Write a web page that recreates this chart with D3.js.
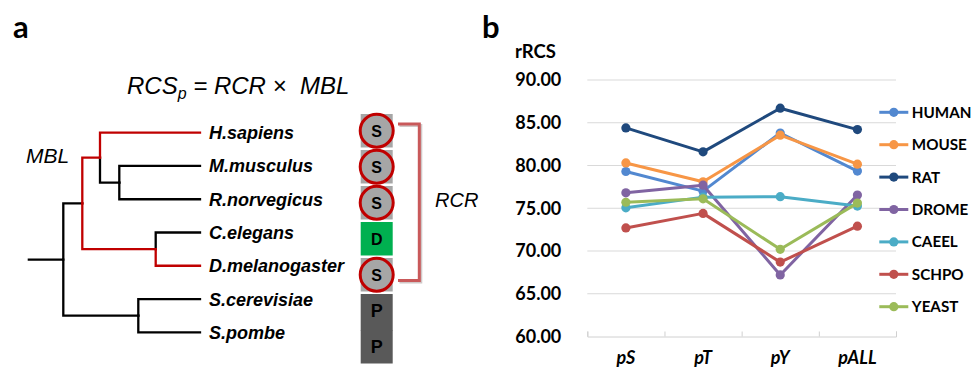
<!DOCTYPE html>
<html>
<head>
<meta charset="utf-8">
<script src="https://cdn.jsdelivr.net/npm/d3@7"></script>
<style>
    body { margin: 0; background: #fff; }
    svg { display: block; }
</style>
</head>
<body>
<div id="chart"></div>
<script>
// ---- panel a: tree (branch lengths, arbitrary units)
var treeNodes = [
    { id: "root", parent: "", len: 35.6 },
    { id: "A", parent: "root", len: 19 },
    { id: "V", parent: "A", len: 17.7 },
    { id: "H.sapiens", parent: "V", len: 100 },
    { id: "R", parent: "V", len: 19.3 },
    { id: "M.musculus", parent: "R", len: 80.7 },
    { id: "R.norvegicus", parent: "R", len: 80.7 },
    { id: "CD", parent: "A", len: 73.4 },
    { id: "C.elegans", parent: "CD", len: 44.3 },
    { id: "D.melanogaster", parent: "CD", len: 44.3 },
    { id: "Y", parent: "root", len: 75 },
    { id: "S.cerevisiae", parent: "Y", len: 61.7 },
    { id: "S.pombe", parent: "Y", len: 61.7 }
];
var redBranches = ["V", "H.sapiens", "CD", "D.melanogaster"];
var leafOrder = ["H.sapiens", "M.musculus", "R.norvegicus", "C.elegans", "D.melanogaster", "S.cerevisiae", "S.pombe"];
var residueTypes = ["S", "S", "S", "D", "S", "P", "P"];

// ---- panel b: line chart
var categories = ["pS", "pT", "pY", "pALL"];
var species = ["HUMAN", "MOUSE", "RAT", "DROME", "CAEEL", "SCHPO", "YEAST"];
var human = [79.3, 77.0, 83.8, 79.35];
var mouse = [80.3, 78.1, 83.55, 80.15];
var rat   = [84.4, 81.6, 86.7, 84.2];
var drome = [76.8, 77.7, 67.2, 76.55];
var caeel = [75.05, 76.3, 76.35, 75.25];
var schpo = [72.7, 74.4, 68.7, 72.9];
var yeast = [75.7, 76.1, 70.2, 75.6];
var yTicks = [60, 65, 70, 75, 80, 85, 90];

function init() {
    var w = 971, h = 371;
    var svg = d3.select("#chart").append("svg")
        .attr("width", w)
        .attr("height", h);

    drawTree(svg);
    drawLines(svg);
}

function drawTree(svg) {
    var red = "#c00000";
    var root = d3.stratify()
        .id(function(d) { return d.id; })
        .parentId(function(d) { return d.parent || null; })(treeNodes);

    // cumulative depth
    root.each(function(n) {
        n.depthLen = n.data.len + (n.parent ? n.parent.depthLen : 0);
    });
    var maxDepth = d3.max(root.leaves(), function(n) { return n.depthLen; });

    var xScale = d3.scaleLinear().domain([0, maxDepth]).range([27.7, 200]);
    var yLeaf = d3.scalePoint().domain(leafOrder).range([132.7, 332.3]);

    root.eachAfter(function(n) {
        if (!n.children) n.yPos = yLeaf(n.id);
        else n.yPos = (n.children[0].yPos + n.children[n.children.length - 1].yPos) / 2;
        n.xPos = xScale(n.depthLen);
    });

    var g = svg.append("g");

    // stub into the root
    g.append("line")
        .attr("x1", xScale(0)).attr("x2", root.xPos)
        .attr("y1", root.yPos).attr("y2", root.yPos)
        .attr("stroke", "#000").attr("stroke-width", 2.3);

    // elbow for each branch, black ones first so red sits on top
    var branches = root.descendants().slice(1).sort(function(a, b) {
        return (redBranches.indexOf(a.id) >= 0) - (redBranches.indexOf(b.id) >= 0);
    });
    g.selectAll(".branch")
        .data(branches)
        .enter()
        .append("path")
        .attr("class", "branch")
        .attr("fill", "none")
        .attr("stroke-width", 2.3)
        .attr("stroke-linecap", "square")
        .attr("stroke", function(d) { return redBranches.indexOf(d.id) >= 0 ? red : "#000"; })
        .attr("d", function(d) {
            return "M" + d.parent.xPos + "," + d.parent.yPos +
                   "V" + d.yPos + "H" + d.xPos;
        });

    // leaf labels
    g.selectAll(".leaf")
        .data(root.leaves())
        .enter()
        .append("text")
        .attr("x", function(d) { return d.xPos + 9; })
        .attr("y", function(d) { return d.yPos; })
        .attr("dy", "0.36em")
        .style("font-family", "'Liberation Sans', Arial, sans-serif")
        .style("font-weight", "bold")
        .style("font-style", "italic")
        .style("font-size", "18px")
        .text(function(d) { return d.id; });

    // formula
    var f = svg.append("text")
        .attr("x", 127).attr("y", 94)
        .attr("xml:space", "preserve")
        .style("font-family", "'Liberation Sans', Arial, sans-serif")
        .style("font-style", "italic")
        .style("font-size", "24px")
        .style("white-space", "pre");
    f.append("tspan").text("RCS");
    f.append("tspan").attr("dy", 5).style("font-size", "16px").text("p");
    f.append("tspan").attr("dy", -5).text(" = RCR \u00d7  MBL");

    svg.append("text")
        .attr("x", 26).attr("y", 163)
        .style("font-family", "'Liberation Sans', Arial, sans-serif")
        .style("font-style", "italic")
        .style("font-size", "21px")
        .text("MBL");

    // residue column
    var yBox = d3.scaleBand().domain(d3.range(residueTypes.length))
        .range([114, 363.5]).paddingInner(0.07);
    var fills = { S: "#a6a6a6", D: "#00b050", P: "#595959" };
    var bx = 360.7, bw = 32;

    svg.selectAll(".box")
        .data(residueTypes)
        .enter()
        .append("rect")
        .attr("x", bx)
        .attr("y", function(d, i) { return yBox(i); })
        .attr("width", bw)
        .attr("height", function(d, i) {
            return residueTypes[i + 1] === d && d === "P" ? yBox.step() + 0.5 : yBox.bandwidth();
        })
        .attr("fill", function(d) { return fills[d]; });

    svg.selectAll(".ring")
        .data(residueTypes.map(function(d, i) { return { t: d, i: i }; }).filter(function(d) { return d.t === "S"; }))
        .enter()
        .append("circle")
        .attr("cx", bx + bw / 2)
        .attr("cy", function(d) { return yBox(d.i) + yBox.bandwidth() / 2; })
        .attr("r", 16.5)
        .attr("fill", "#a6a6a6")
        .attr("stroke", red)
        .attr("stroke-width", 3);

    svg.selectAll(".res")
        .data(residueTypes)
        .enter()
        .append("text")
        .attr("x", bx + bw / 2)
        .attr("y", function(d, i) { return yBox(i) + yBox.bandwidth() / 2; })
        .attr("dy", "0.36em")
        .attr("text-anchor", "middle")
        .style("font-family", "'Liberation Sans', Arial, sans-serif")
        .style("font-weight", "bold")
        .style("font-size", function(d) { return d === "P" ? "18px" : "16px"; })
        .text(function(d) { return d; });

    // RCR bracket
    var top = yBox(0) + 10, bot = yBox(4) + yBox.bandwidth() - 11;
    var bracket = "M398," + top + "H419.3V" + bot + "H398";
    svg.append("path").attr("d", bracket)
        .attr("transform", "translate(1.5,1.5)")
        .attr("fill", "none").attr("stroke", "#d0c8c8").attr("stroke-width", 3);
    svg.append("path").attr("d", bracket)
        .attr("fill", "none").attr("stroke", "#c9595a").attr("stroke-width", 3);

    svg.append("text")
        .attr("x", 435).attr("y", 207)
        .style("font-family", "'Liberation Sans', Arial, sans-serif")
        .style("font-style", "italic")
        .style("font-size", "20px")
        .text("RCR");

    svg.append("text")
        .attr("x", 13).attr("y", 38)
        .style("font-family", "Lato, sans-serif")
        .style("font-weight", "bold")
        .style("font-size", "31px")
        .text("a");
}

function drawLines(svg) {
    var series = [human, mouse, rat, drome, caeel, schpo, yeast];
    var colors = ["#5288d0", "#f79646", "#1f497d", "#8064a2", "#4bacc6", "#c0504d", "#9bbb59"];
    var font = "Lato, 'Open Sans', sans-serif";

    var xScale = d3.scaleBand().domain(categories).range([587.3, 896]);
    var yScale = d3.scaleLinear().domain([60, 90]).range([336.5, 80]);
    var cx = function(c) { return xScale(c) + xScale.bandwidth() / 2; };

    // gridlines
    svg.selectAll(".grid")
        .data(yTicks.slice(1))
        .enter()
        .append("line")
        .attr("x1", 587.3).attr("x2", 896)
        .attr("y1", function(d) { return yScale(d); })
        .attr("y2", function(d) { return yScale(d); })
        .attr("stroke", "#d9d9d9").attr("stroke-width", 1);

    // bottom axis with inside ticks at category edges
    var edge = d3.scaleLinear().domain([0, categories.length]).range([587.3, 896]);
    var xAxis = svg.append("g")
        .attr("transform", "translate(0," + yScale(60) + ")")
        .call(d3.axisBottom(edge).ticks(categories.length).tickSize(-5).tickSizeOuter(-5).tickFormat(""));
    xAxis.selectAll("path, line").attr("stroke", "#d0d0d0");

    // category labels
    var xLab = svg.append("g")
        .attr("transform", "translate(0," + yScale(60) + ")")
        .call(d3.axisBottom(xScale).tickSize(0).tickPadding(15));
    xLab.select(".domain").remove();
    xLab.selectAll("text")
        .style("font-family", font)
        .style("font-weight", "bold")
        .style("font-style", "italic")
        .style("font-size", "18px")
        .attr("fill", "#000");

    // y labels
    var yAxis = svg.append("g")
        .attr("transform", "translate(587.3,0)")
        .call(d3.axisLeft(yScale).tickValues(yTicks).tickFormat(d3.format(".2f")).tickSize(0).tickPadding(26));
    yAxis.select(".domain").remove();
    yAxis.selectAll("text")
        .style("font-family", font)
        .style("font-weight", "bold")
        .style("font-size", "18px")
        .attr("fill", "#000");

    svg.append("text")
        .attr("x", 515).attr("y", 58)
        .style("font-family", font)
        .style("font-weight", "bold")
        .style("font-size", "18.5px")
        .text("rRCS");

    svg.append("text")
        .attr("x", 482).attr("y", 38)
        .style("font-family", font)
        .style("font-weight", "bold")
        .style("font-size", "31px")
        .text("b");

    var line = d3.line()
        .x(function(d, i) { return cx(categories[i]); })
        .y(function(d) { return yScale(d); });

    series.forEach(function(s, k) {
        var g = svg.append("g");
        g.append("path")
            .datum(s)
            .attr("d", line)
            .attr("fill", "none")
            .attr("stroke", colors[k])
            .attr("stroke-width", 3)
            .attr("stroke-linejoin", "round");
        g.selectAll("circle")
            .data(s)
            .enter()
            .append("circle")
            .attr("cx", function(d, i) { return cx(categories[i]); })
            .attr("cy", function(d) { return yScale(d); })
            .attr("r", 4.6)
            .attr("fill", colors[k]);
    });

    // legend
    var yLeg = d3.scalePoint().domain(species).range([112.3, 306.7]);
    var leg = svg.selectAll(".leg")
        .data(species)
        .enter()
        .append("g")
        .attr("transform", function(d) { return "translate(879.3," + yLeg(d) + ")"; });
    leg.append("line")
        .attr("x1", 0).attr("x2", 29)
        .attr("stroke", function(d, i) { return colors[i]; })
        .attr("stroke-width", 3);
    leg.append("circle")
        .attr("cx", 14.5).attr("r", 4.6)
        .attr("fill", function(d, i) { return colors[i]; });
    leg.append("text")
        .attr("x", 32.5)
        .attr("dy", "0.36em")
        .style("font-family", font)
        .style("font-weight", "bold")
        .style("font-size", "15.2px")
        .text(function(d) { return d; });
}

window.onload = init;
</script>
</body>
</html>
